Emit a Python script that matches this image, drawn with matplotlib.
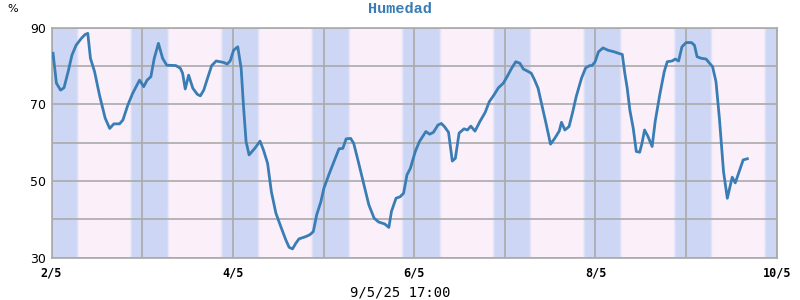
#!/usr/bin/env python3
"""Humedad: relative humidity over eight days, with night shading."""

import numpy as np
import matplotlib
matplotlib.use("Agg")
import matplotlib.pyplot as plt

# Hours since 2/5 00:00 and humidity (%)
hours = [0.4, 1.3, 2.4, 3.3, 4.4, 5.4, 6.5, 7.9, 8.9, 9.6, 10.3, 11.4, 12.7,
         14.2, 15.4, 16.5, 18.0, 18.9, 20.2, 21.5, 23.3, 24.4, 25.3, 26.3,
         27.2, 28.3, 29.4, 30.5, 32.9, 34.1, 34.7, 35.4, 36.3, 37.4, 38.6,
         39.4, 40.3, 41.3, 42.4, 43.6, 45.6, 46.5, 47.3, 48.2, 49.3, 50.2,
         50.8, 51.5, 52.3, 53.8, 55.2, 56.1, 57.2, 58.2, 59.4, 60.7, 62.0,
         62.9, 63.8, 64.7, 65.5, 67.3, 68.4, 69.3, 70.2, 71.3, 72.1, 73.4,
         74.8, 76.1, 77.1, 78.0, 79.2, 80.0, 81.2, 82.7, 84.0, 85.4, 86.6,
         88.2, 89.3, 90.0, 91.2, 92.3, 93.2, 94.1, 95.0, 96.3, 97.4, 99.1,
         100.1, 101.1, 102.3, 103.2, 104.0, 105.1, 106.1, 106.9, 107.9,
         109.2, 110.1, 111.0, 112.1, 113.4, 114.8, 115.9, 117.1, 118.3,
         119.6, 120.6, 121.8, 122.9, 124.0, 124.9, 125.9, 127.0, 127.9,
         128.8, 129.7, 131.0, 132.1, 133.2, 134.4, 135.0, 135.9, 137.0,
         137.9, 138.9, 140.3, 141.4, 142.5, 143.1, 143.9, 144.8, 146.0,
         147.3, 148.9, 150.1, 151.1, 151.7, 152.4, 153.1, 154.0, 154.8,
         155.7, 156.3, 157.0, 157.9, 159.0, 159.8, 161.0, 162.2, 163.0,
         164.3, 165.1, 166.0, 166.9, 168.0, 169.4, 170.2, 170.9, 172.0,
         173.3, 174.2, 175.0, 175.9, 176.8, 177.9, 178.9, 180.2, 181.0,
         182.4, 183.1, 184.2]
humidity = [83.3, 75.5, 73.7, 74.3, 78.5, 82.8, 85.4, 87.2, 88.2, 88.5, 82.0,
            78.5, 72.4, 66.4, 63.7, 64.9, 64.9, 65.9, 69.8, 72.9, 76.3, 74.6,
            76.3, 77.2, 82.0, 85.9, 82.0, 80.2, 80.1, 79.4, 78.1, 74.0, 77.6,
            74.2, 72.6, 72.2, 73.7, 76.8, 80.1, 81.3, 80.9, 80.5, 81.3, 84.1,
            85.0, 79.4, 69.8, 60.3, 56.8, 58.5, 60.4, 58.1, 54.6, 47.2, 41.6,
            38.1, 34.7, 32.7, 32.3, 33.8, 34.9, 35.5, 36.0, 36.8, 41.2, 44.6,
            48.1, 51.6, 55.1, 58.4, 58.5, 61.0, 61.1, 59.8, 55.1, 49.0, 43.8,
            40.3, 39.3, 38.8, 37.9, 42.1, 45.5, 45.9, 46.8, 51.6, 53.3, 57.7,
            60.3, 62.9, 62.2, 62.7, 64.6, 65.0, 64.2, 62.7, 55.2, 55.9, 62.5,
            63.6, 63.3, 64.3, 63.0, 65.5, 67.9, 70.7, 72.4, 74.3, 75.5, 77.2,
            79.4, 81.1, 80.7, 79.2, 78.7, 78.1, 76.3, 74.2, 70.3, 64.6, 59.6,
            61.1, 63.0, 65.3, 63.3, 64.2, 67.7, 72.0, 76.8, 79.5, 80.1, 80.1,
            81.1, 83.7, 84.7, 84.1, 83.7, 83.3, 83.0, 78.5, 74.2, 68.5, 63.7,
            57.7, 57.5, 59.8, 63.3, 61.6, 59.0, 65.5, 72.4, 78.5, 81.1, 81.3,
            81.8, 81.3, 85.0, 86.1, 86.1, 85.4, 82.4, 82.0, 81.8, 80.7, 79.8,
            75.9, 66.4, 52.4, 45.5, 51.0, 49.5, 53.5, 55.5, 55.8]

# Night periods (hours since 2/5 00:00)
night_start = [-3.2, 20.9, 44.9, 68.8, 92.7, 116.8, 140.7, 164.7, 188.6]
night_end = [6.8, 30.7, 54.6, 78.6, 102.7, 126.5, 150.4, 174.4, 198.4]

day_labels = ["2/5", "", "4/5", "", "6/5", "", "8/5", "", "10/5"]
title = "Humedad"
stamp = "9/5/25 17:00"

line_color = "#3a7db5"
grid_color = "#aaaaaa"
pink = np.array([251, 240, 250]) / 255
blue = np.array([205, 215, 245]) / 255


def main():
    fig = plt.figure(figsize=(8, 3), dpi=100)
    ax = fig.add_axes([0.0644, 0.141, 0.9066, 0.767])

    # background: day/night bands with soft edges
    t = np.arange(0, 192, 0.05)
    mask = np.zeros_like(t)
    for s, e in zip(night_start, night_end):
        mask[(t >= s) & (t < e)] = 1.0
    k = np.ones(14) / 14
    mask = np.convolve(np.pad(mask, 7, mode="edge"), k, mode="same")[7:-7]
    img = pink[None, :] * (1 - mask[:, None]) + blue[None, :] * mask[:, None]
    ax.imshow(img[None, :, :], extent=[0, 192, 30, 90], aspect="auto",
              interpolation="bilinear", zorder=0)

    ax.plot(hours, humidity, color=line_color, lw=2, zorder=3,
            solid_joinstyle="round")

    ax.set_xlim(0, 192)
    ax.set_ylim(30, 90)
    ax.set_xticks(np.arange(0, 193, 24))
    ax.set_xticklabels(day_labels, family="DejaVu Sans Mono",
                       fontweight="bold", fontsize=8.5)
    ax.set_yticks(np.arange(30, 91, 10))
    ax.set_yticklabels(["30", "", "50", "", "70", "", "90"],
                       family="DejaVu Sans", fontsize=9)
    ax.tick_params(length=0, pad=4)
    ax.tick_params(axis="x", pad=6)
    ax.grid(True, color=grid_color, lw=1.2, zorder=1)
    ax.set_axisbelow(False)
    for sp in ax.spines.values():
        sp.set_color(grid_color)
        sp.set_linewidth(1.2)

    fig.text(0.5, 1 - 9 / 300, title, ha="center", va="center",
             family="Liberation Mono", fontweight="bold", fontsize=11,
             color=line_color)
    fig.text(13 / 800, 1 - 9 / 300, "%", ha="center", va="center",
             family="DejaVu Sans", fontsize=8)
    fig.text(0.5, 1 - 293 / 300, stamp, ha="center", va="center",
             family="DejaVu Sans Mono", fontsize=10)

    fig.savefig("out.png", dpi=100)
    plt.close(fig)


if __name__ == "__main__":
    main()
